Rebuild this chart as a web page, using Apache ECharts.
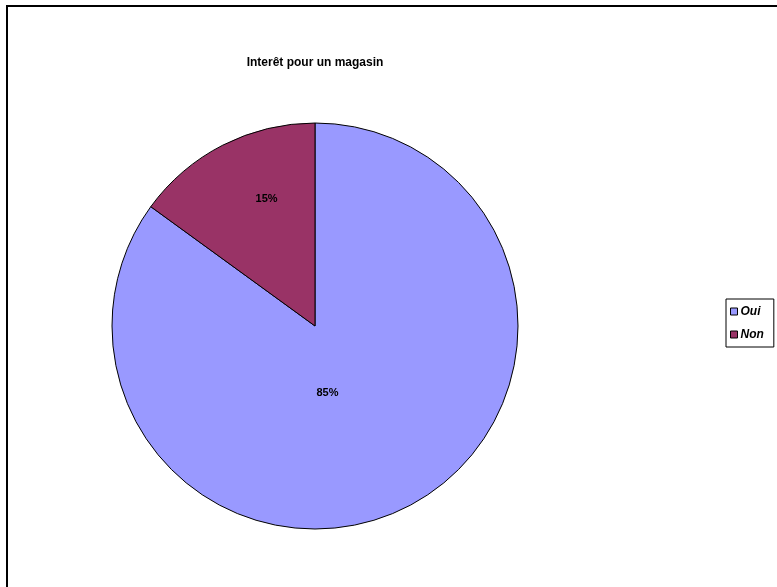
<!DOCTYPE html>
<html>
<head>
<meta charset="utf-8">
<script src="https://cdn.jsdelivr.net/npm/echarts@6/dist/echarts.min.js"></script>
<style>
html,body{margin:0;padding:0;background:#fff;}
#chart{width:777px;height:587px;}
</style>
</head>
<body>
<div id="chart"></div>
<script>
const titleText = "Interêt pour un magasin";
const categories = ["Oui", "Non"];
const values = [85, 15];
const colors = ["#9999FF", "#993366"];
const labelOffsets = [[-35, -26], [-1, -34]];

const chart = echarts.init(document.getElementById('chart'), null, {renderer: 'canvas'});
chart.setOption({
  animation: false,
  backgroundColor: '#fff',
  graphic: [{
    type: 'rect',
    shape: {x: 7, y: 6, width: 800, height: 620},
    style: {fill: 'none', stroke: '#000', lineWidth: 2},
    silent: true
  }],
  title: {
    text: titleText,
    left: 310,
    top: 52,
    textAlign: 'center',
    textStyle: {fontFamily: 'Arial, Liberation Sans', fontSize: 12, fontWeight: 'bold', color: '#000'}
  },
  legend: {
    orient: 'vertical',
    left: 726,
    top: 299,
    padding: [6, 10, 6, 4],
    itemGap: 10,
    itemWidth: 7,
    itemHeight: 7,
    icon: 'rect',
    borderColor: '#000',
    borderWidth: 1,
    data: categories,
    itemStyle: {borderColor: '#000', borderWidth: 1},
    textStyle: {fontFamily: 'Arial, Liberation Sans', fontSize: 12, fontWeight: 'bold', fontStyle: 'italic', color: '#000', lineHeight: 13, padding: [0, 0, 0, -2]}
  },
  series: [{
    type: 'pie',
    center: [315, 326],
    radius: 203,
    startAngle: 90,
    clockwise: true,
    silent: true,
    data: categories.map((c, i) => ({name: c, value: values[i], itemStyle: {color: colors[i]}})),
    itemStyle: {borderColor: '#000', borderWidth: 1},
    label: {
      position: 'inside',
      formatter: '{c}%',
      fontFamily: 'Arial, Liberation Sans',
      fontSize: 11,
      fontWeight: 'bold',
      color: '#000'
    },
    labelLayout: function (p) {
      return {dx: labelOffsets[p.dataIndex][0], dy: labelOffsets[p.dataIndex][1]};
    },
    labelLine: {show: false}
  }]
});
</script>
</body>
</html>
